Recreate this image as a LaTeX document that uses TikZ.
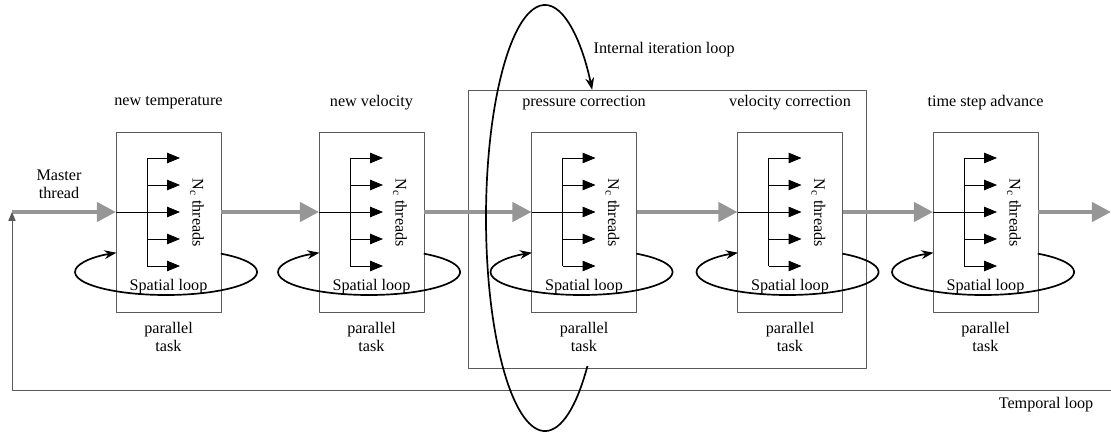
\documentclass[tikz,border=0pt]{standalone}
\usepackage{fontspec}
\setmainfont{Liberation Serif}
\usetikzlibrary{arrows.meta,calc}
\definecolor{flowgray}{RGB}{150,150,150}
\definecolor{boxgray}{RGB}{90,90,90}
\tikzset{
	taskbox/.style={draw=boxgray, line width=0.6pt, minimum width=2.625cm, minimum height=4.5cm, inner sep=0pt},
	groupbox/.style={draw=boxgray, line width=0.6pt, minimum width=9.95cm, minimum height=6.95cm, inner sep=0pt},
	flow/.style={flowgray, line width=3pt, -{Triangle[length=0.48cm,width=0.48cm]}},
	thread/.style={line width=0.5pt, -{Triangle[length=0.32cm,width=0.26cm]}},
	loopline/.style={line width=1.2pt, -{Stealth[length=0.3cm,width=0.22cm]}},
	label/.style={inner sep=1pt, font=\fontsize{11.5}{12.8}\selectfont},
	note/.style={inner sep=1pt, align=center, font=\fontsize{11.5}{12.8}\selectfont},
}
\begin{document}
\begin{tikzpicture}[x=0.025cm, y=0.025cm, line join=round]
	\useasboundingbox (0,0) rectangle (1111,434);
	%grouping box of the correction steps
	\node[groupbox] (iter) at (667,205) {};
	%the five parallel tasks
	\foreach \i/\cx/\title in {1/168.5/new temperature, 2/371.5/new velocity, 3/584/pressure correction, 4/790/velocity correction, 5/985.5/time step advance}{
		\node[label] (h\i) at (\cx,331) {\title};
		\node[taskbox] (t\i) at (\cx,212) {};
		\node[note] (p\i) at (\cx,97) {parallel\\task};
		\node[label, rotate=-90] (n\i) at (\cx+28.5,221) {N\textsubscript{c} threads};
		\node[label] (s\i) at (\cx,147) {Spatial loop};
		\coordinate (in\i) at (\cx-52.5,222);
		\coordinate (out\i) at (\cx+52.5,222);
		\coordinate (hub\i) at (\cx-21.5,222);
		%thread fan
		\draw[line width=0.5pt] ($(hub\i)+(0,54)$) -- ($(hub\i)+(0,-54)$);
		\draw[thread] (in\i) -- ++(64,0);
		\foreach \dy in {-54,-27,27,54}
			\draw[thread] ($(hub\i)+(0,\dy)$) -- ++(33,0);
		%spatial loop
		\draw[loopline] ($(\cx-2.5,162)+(53:2.275cm and 0.575cm)$) arc[start angle=53, end angle=-237, x radius=2.275cm, y radius=0.575cm];
	}
	%master thread
	\coordinate (start) at (12,222);
	\coordinate (finish) at (1111,222);
	\coordinate (tend) at (1111,44);
	\node[note] (master) at (59,250) {Master\\thread};
	\draw[flow] (start) -- (in1);
	\foreach \a/\b in {1/2,2/3,3/4,4/5}
		\draw[flow] (out\a) -- (in\b);
	\draw[flow] (out5) -- (finish);
	%temporal loop
	\draw[line width=0.6pt, draw=boxgray, -{Triangle[length=0.22cm,width=0.18cm]}] (tend) -| (start);
	\node[label] (temporal) at (1046,29) {Temporal loop};
	%internal iteration loop
	\draw[loopline] ($(545,216)+(-44:1.475cm and 5.325cm)$) arc[start angle=-44, end angle=-323, x radius=1.475cm, y radius=5.325cm];
	\node[label, anchor=west] (internal) at (592,384) {Internal iteration loop};
\end{tikzpicture}
\end{document}
